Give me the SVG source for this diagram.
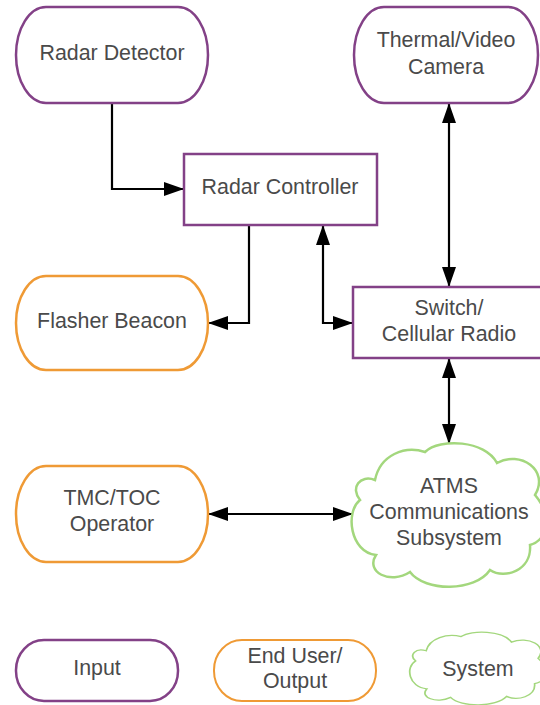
<svg xmlns="http://www.w3.org/2000/svg" width="540" height="705" viewBox="0 0 540 705">
<style>
text{font-family:"Liberation Sans",Arial,sans-serif;font-size:21.4px;fill:#4a4a4a;text-anchor:middle}
.in{fill:#fff;stroke:#834187;stroke-width:2.5}
.out{fill:#fff;stroke:#ef9a35;stroke-width:2.5}
.sys{fill:#fff;stroke:#a3d77d;stroke-width:2.5;vector-effect:non-scaling-stroke}
.c{fill:none;stroke:#000;stroke-width:2.2}
</style>
<defs>
<marker id="ah" viewBox="0 0 20 14" refX="20" refY="7" markerWidth="20" markerHeight="14" markerUnits="userSpaceOnUse" orient="auto-start-reverse">
<path d="M0,0L20,7L0,14z" fill="#000"/>
</marker>
<path id="cloud" d="M375,480 C380,455 405,445 425,452 C440,438 485,440 497,463 C520,450 550,470 535,495 C552,515 548,540 530,545 C532,570 505,580 490,570 C475,592 425,592 410,572 C390,585 365,572 376,555 C350,552 345,512 360,500 C350,488 360,474 375,480 Z"/>
</defs>
<g id="connectors">
<path class="c" d="M112,103 V189 H184" marker-end="url(#ah)"/>
<path class="c" d="M249,225 V323 H208" marker-end="url(#ah)"/>
<path class="c" d="M323,225 V323 H353" marker-start="url(#ah)" marker-end="url(#ah)"/>
<path class="c" d="M449,103 V287" marker-start="url(#ah)" marker-end="url(#ah)"/>
<path class="c" d="M449,358 V444" marker-start="url(#ah)" marker-end="url(#ah)"/>
<path class="c" d="M208,514 H353" marker-start="url(#ah)" marker-end="url(#ah)"/>
</g>
<g id="radar-detector">
<rect class="in" x="16" y="7" width="192" height="96" rx="30" ry="48"/>
<text x="112" y="60">Radar Detector</text>
</g>
<g id="camera">
<rect class="in" x="354" y="7" width="184" height="96" rx="30" ry="48"/>
<text x="446" y="47">Thermal/Video</text>
<text x="446" y="74">Camera</text>
</g>
<g id="radar-controller">
<rect class="in" x="184" y="154" width="193" height="71"/>
<text x="280" y="194">Radar Controller</text>
</g>
<g id="flasher-beacon">
<rect class="out" x="16" y="276" width="192" height="94" rx="30" ry="47"/>
<text x="112" y="328">Flasher Beacon</text>
</g>
<g id="switch">
<rect class="in" x="353" y="287" width="192" height="71"/>
<text x="449" y="315">Switch/</text>
<text x="449" y="341">Cellular Radio</text>
</g>
<g id="atms">
<use href="#cloud" class="sys"/>
<text x="449" y="493">ATMS</text>
<text x="449" y="519">Communications</text>
<text x="449" y="545">Subsystem</text>
</g>
<g id="tmc">
<rect class="out" x="16" y="466" width="192" height="96" rx="30" ry="48"/>
<text x="112" y="505">TMC/TOC</text>
<text x="112" y="531">Operator</text>
</g>
<g id="legend-input">
<rect class="in" x="16" y="640" width="162" height="61" rx="28" ry="30"/>
<text x="97" y="675">Input</text>
</g>
<g id="legend-output">
<rect class="out" x="214" y="640" width="162" height="61" rx="28" ry="30" style="stroke-width:2"/>
<text x="295" y="663">End User/</text>
<text x="295" y="688">Output</text>
</g>
<g id="legend-system">
<use href="#cloud" class="sys" transform="translate(410,632) scale(0.70,0.507) translate(-352,-443)"/>
<text x="478" y="676">System</text>
</g>
</svg>
